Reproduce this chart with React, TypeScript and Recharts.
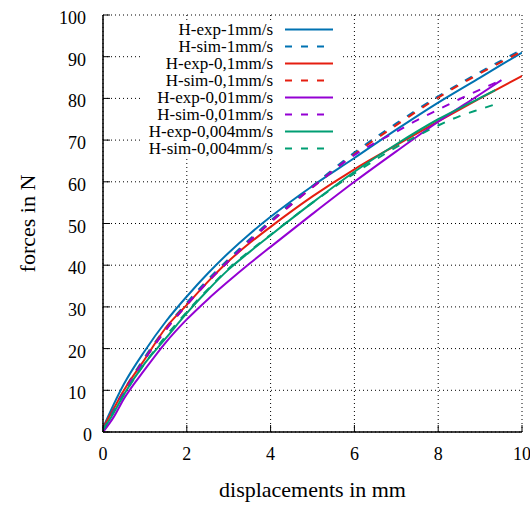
import { LineChart, Line, XAxis, YAxis, CartesianGrid } from 'recharts';

const xTicks = [0, 2, 4, 6, 8, 10];
const yTicks = [0, 10, 20, 30, 40, 50, 60, 70, 80, 90, 100];

// [displacement mm, force N]
const exp1: [number, number][] = [[0, 1], [0.25, 6.5], [0.5, 11.5], [1, 19.5], [1.5, 26.5], [2, 32.5], [2.5, 38], [3, 43], [3.5, 47.5], [4, 51.6], [5, 59], [6, 65.7], [7, 72.5], [8, 79], [9, 85], [10, 91]];
const sim1: [number, number][] = [[0, 0.5], [0.5, 10], [1, 18], [1.5, 25], [2, 31], [2.5, 36.5], [3, 41.5], [3.5, 46.2], [4, 50.7], [5, 59], [6, 67], [7, 74], [8, 80.5], [9, 86.3], [10, 91.7]];
const exp01: [number, number][] = [[0, 1], [0.25, 5.5], [0.5, 10], [1, 17.5], [1.5, 25], [2, 30.5], [2.5, 36], [3, 41], [3.5, 45.3], [4, 49.2], [5, 56.5], [6, 63], [7, 68.8], [8, 74.5], [9, 80], [10, 85.4]];
const sim01: [number, number][] = [[0, 0.5], [0.5, 9.5], [1, 17.5], [1.5, 24.5], [2, 30.5], [2.5, 36], [3, 41], [3.5, 45.8], [4, 50.3], [5, 58.7], [6, 66.6], [7, 73.6], [8, 80.2], [9, 86], [10, 91.3]];
const exp001: [number, number][] = [[0, 0], [0.25, 3.5], [0.5, 8], [1, 15], [1.5, 21.5], [2, 27], [2.5, 31.8], [3, 36.2], [3.5, 40.4], [4, 44.4], [5, 52.3], [6, 60], [7, 67.3], [8, 74.4], [9, 81], [9.51, 84.4]];
const sim001: [number, number][] = [[0, 0.5], [0.5, 9.5], [1, 17.5], [1.5, 24.5], [2, 30.5], [2.5, 36], [3, 41], [3.5, 45.8], [4, 50.3], [5, 58.7], [6, 66.4], [6.5, 69.4], [7, 72], [7.5, 74.8], [8, 77.3], [8.5, 79.8], [9, 82.1], [9.47, 84.2]];
const exp0004: [number, number][] = [[0, 0.5], [0.25, 4.5], [0.5, 9], [1, 16.5], [1.5, 22.5], [2, 28.5], [2.5, 34], [3, 39], [3.5, 43.2], [4, 47.2], [5, 55], [6, 62.4], [7, 69], [8, 75], [9, 80.1], [9.36, 82]];
const sim0004: [number, number][] = [[0, 0.5], [0.5, 9], [1, 16.5], [1.5, 23], [2, 28.8], [2.5, 34.2], [3, 39.2], [3.5, 43.4], [4, 47.3], [5, 55], [6, 62], [7, 68.3], [7.5, 71], [8, 73.5], [8.5, 75.7], [9, 77.4], [9.4, 78.7]];

const series = [
  { name: 'H-exp-1mm/s', color: '#0072b2', dashed: false, pts: exp1 },
  { name: 'H-sim-1mm/s', color: '#0072b2', dashed: true, pts: sim1 },
  { name: 'H-exp-0,1mm/s', color: '#e51e10', dashed: false, pts: exp01 },
  { name: 'H-sim-0,1mm/s', color: '#e51e10', dashed: true, pts: sim01 },
  { name: 'H-exp-0,01mm/s', color: '#9400d3', dashed: false, pts: exp001 },
  { name: 'H-sim-0,01mm/s', color: '#9400d3', dashed: true, pts: sim001 },
  { name: 'H-exp-0,004mm/s', color: '#009e73', dashed: false, pts: exp0004 },
  { name: 'H-sim-0,004mm/s', color: '#009e73', dashed: true, pts: sim0004 },
];

const font = "'Liberation Serif', 'Times New Roman', serif";
const dash = '8 9';

function XTick(props: any) {
  const { x, y, payload } = props;
  return (
    <text x={x} y={y + 35} textAnchor="middle" fontFamily={font} fontSize={18} fill="#000">
      {payload.value}
    </text>
  );
}

function YTick(props: any) {
  const { x, y, payload } = props;
  const shift = payload.value === 0 ? 18 : 24;
  return (
    <text x={x - shift} y={y + 9} textAnchor="end" fontFamily={font} fontSize={18} fill="#000">
      {payload.value}
    </text>
  );
}

const axisLine = { stroke: '#000', strokeWidth: 1.5 };
const tickLine = { stroke: '#000', strokeWidth: 1 };

export default function App() {
  return (
    <div style={{ position: 'fixed', left: 0, top: 0, width: 530, height: 505, background: '#fff' }}>
      <LineChart width={530} height={505} margin={{ top: 15, right: 8, left: 0, bottom: 0 }}>
        <CartesianGrid stroke="#000" strokeDasharray="1 3" />
        <XAxis type="number" dataKey="x" domain={[0, 10]} ticks={xTicks} allowDataOverflow height={73}
          axisLine={axisLine} tickLine={tickLine} tickSize={-7} tickMargin={0} tick={<XTick />}
          label={{ value: 'displacements in mm', position: 'insideBottom', offset: 8, style: { fontFamily: font, fontSize: 22, fill: '#000' } }} />
        <XAxis xAxisId="top" orientation="top" type="number" dataKey="x" domain={[0, 10]} ticks={xTicks} allowDataOverflow height={0}
          axisLine={axisLine} tickLine={tickLine} tickSize={-7} tick={false} />
        <YAxis type="number" domain={[0, 100]} ticks={yTicks} allowDataOverflow width={103}
          axisLine={axisLine} tickLine={tickLine} tickSize={-7} tickMargin={0} tick={<YTick />}
          label={{ value: 'forces in N', angle: -90, position: 'insideLeft', offset: 27, style: { textAnchor: 'middle', fontFamily: font, fontSize: 22, fill: '#000' } }} />
        <YAxis yAxisId="right" orientation="right" type="number" domain={[0, 100]} ticks={yTicks} allowDataOverflow width={0}
          axisLine={axisLine} tickLine={tickLine} tickSize={-7} tick={false} />
        {series.map((s) => (
          <Line key={s.name} data={s.pts.map(([x, y]) => ({ x, y }))} dataKey="y" type="monotone"
            stroke={s.color} strokeWidth={2} strokeDasharray={s.dashed ? dash : undefined}
            dot={false} activeDot={false} isAnimationActive={false} />
        ))}
      </LineChart>
      <div style={{ position: 'absolute', left: 140, top: 23, width: 202, height: 134, background: '#fff' }} />
      {series.map((s, i) => (
        <div key={s.name}>
          <div style={{ position: 'absolute', left: 80, top: 21 + 17 * i, width: 193, height: 17, lineHeight: '17px',
            textAlign: 'right', fontFamily: font, fontSize: 17, color: '#000', whiteSpace: 'nowrap' }}>{s.name}</div>
          <svg style={{ position: 'absolute', left: 285, top: 21 + 17 * i }} width={48} height={17}>
            <line x1={0} x2={48} y1={8.5} y2={8.5} stroke={s.color} strokeWidth={2}
              strokeDasharray={s.dashed ? '7 9' : undefined} />
          </svg>
        </div>
      ))}
    </div>
  );
}
